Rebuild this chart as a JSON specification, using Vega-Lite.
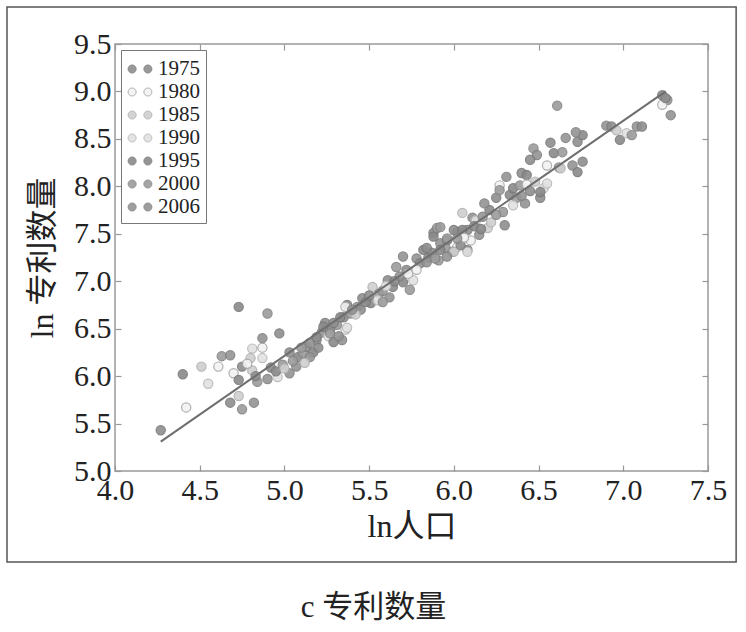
{
  "$schema": "https://vega.github.io/schema/vega-lite/v6.json",
  "width": 593,
  "height": 427,
  "autosize": {"type": "none"},
  "padding": {"left": 115, "top": 44, "right": 38, "bottom": 161},
  "background": "white",
  "title": {
    "text": "c 专利数量",
    "orient": "bottom",
    "anchor": "middle",
    "font": "Liberation Serif, Noto Sans CJK SC",
    "fontSize": 31,
    "fontWeight": "normal",
    "color": "#222222",
    "offset": 30,
    "dx": -38
  },
  "datasets": {
    "pts": [
      {"x":4.27,"y":5.43,"year":"1975"},{"x":4.40,"y":6.02,"year":"1995"},{"x":4.42,"y":5.67,"year":"1980"},
      {"x":4.51,"y":6.10,"year":"1985"},{"x":4.55,"y":5.92,"year":"1990"},{"x":4.61,"y":6.10,"year":"1980"},
      {"x":4.63,"y":6.21,"year":"2000"},{"x":4.68,"y":6.22,"year":"2006"},{"x":4.68,"y":5.72,"year":"1975"},
      {"x":4.73,"y":6.73,"year":"1995"},{"x":4.73,"y":5.79,"year":"1985"},{"x":4.75,"y":5.65,"year":"2000"},
      {"x":4.82,"y":5.72,"year":"2006"},{"x":4.81,"y":6.29,"year":"1990"},{"x":4.87,"y":6.30,"year":"1980"},
      {"x":4.80,"y":6.19,"year":"1985"},{"x":4.87,"y":6.19,"year":"1990"},{"x":4.70,"y":6.03,"year":"1980"},
      {"x":4.75,"y":6.10,"year":"1975"},{"x":4.73,"y":5.96,"year":"1995"},{"x":4.81,"y":6.06,"year":"1985"},
      {"x":4.84,"y":5.94,"year":"2000"},{"x":4.90,"y":5.97,"year":"2006"},{"x":4.83,"y":6.00,"year":"1975"},
      {"x":4.92,"y":6.09,"year":"1995"},{"x":4.96,"y":5.99,"year":"1990"},{"x":4.99,"y":6.12,"year":"2000"},
      {"x":5.03,"y":6.03,"year":"2006"},{"x":5.03,"y":6.25,"year":"1975"},{"x":5.08,"y":6.20,"year":"1995"},
      {"x":5.11,"y":6.24,"year":"2000"},{"x":5.07,"y":6.10,"year":"2006"},{"x":5.13,"y":6.31,"year":"1975"},
      {"x":5.17,"y":6.25,"year":"1995"},{"x":5.19,"y":6.38,"year":"2000"},{"x":5.22,"y":6.46,"year":"2006"},
      {"x":5.24,"y":6.56,"year":"1975"},{"x":5.27,"y":6.49,"year":"1995"},{"x":5.31,"y":6.54,"year":"2000"},
      {"x":5.34,"y":6.38,"year":"2006"},{"x":5.35,"y":6.62,"year":"1975"},{"x":5.37,"y":6.75,"year":"1995"},
      {"x":5.36,"y":6.49,"year":"1980"},{"x":4.90,"y":6.66,"year":"2000"},{"x":4.87,"y":6.40,"year":"2006"},
      {"x":4.97,"y":6.45,"year":"1975"},{"x":4.95,"y":6.05,"year":"1995"},{"x":5.00,"y":6.08,"year":"1985"},
      {"x":5.05,"y":6.16,"year":"2000"},{"x":5.15,"y":6.20,"year":"2006"},{"x":5.20,"y":6.30,"year":"1975"},
      {"x":5.26,"y":6.42,"year":"1990"},{"x":4.78,"y":6.13,"year":"1980"},{"x":5.12,"y":6.14,"year":"1985"},
      {"x":5.29,"y":6.36,"year":"1995"},{"x":5.10,"y":6.30,"year":"2000"},{"x":5.15,"y":6.35,"year":"2006"},
      {"x":5.19,"y":6.41,"year":"1975"},{"x":5.23,"y":6.52,"year":"1995"},{"x":5.27,"y":6.45,"year":"2000"},
      {"x":5.32,"y":6.42,"year":"2006"},{"x":5.29,"y":6.56,"year":"1975"},{"x":5.33,"y":6.62,"year":"1995"},
      {"x":5.37,"y":6.51,"year":"1990"},{"x":5.39,"y":6.66,"year":"2000"},{"x":5.36,"y":6.73,"year":"1980"},
      {"x":5.43,"y":6.73,"year":"2006"},{"x":5.46,"y":6.82,"year":"1975"},{"x":5.51,"y":6.77,"year":"1995"},
      {"x":5.52,"y":6.94,"year":"1985"},{"x":5.56,"y":6.87,"year":"2000"},{"x":5.62,"y":6.83,"year":"2006"},
      {"x":5.61,"y":7.01,"year":"1975"},{"x":5.64,"y":6.94,"year":"1995"},{"x":5.66,"y":7.15,"year":"2000"},
      {"x":5.70,"y":7.26,"year":"2006"},{"x":5.72,"y":7.12,"year":"1975"},{"x":5.76,"y":7.01,"year":"1990"},
      {"x":5.70,"y":6.99,"year":"1995"},{"x":5.74,"y":6.91,"year":"2000"},{"x":5.78,"y":7.24,"year":"2006"},
      {"x":5.80,"y":7.19,"year":"1975"},{"x":5.82,"y":7.33,"year":"1995"},{"x":5.91,"y":7.22,"year":"2000"},
      {"x":5.92,"y":7.40,"year":"2006"},{"x":5.96,"y":7.43,"year":"1975"},{"x":5.88,"y":7.51,"year":"1995"},
      {"x":5.90,"y":7.56,"year":"2000"},{"x":6.02,"y":7.52,"year":"2006"},{"x":6.08,"y":7.54,"year":"1975"},
      {"x":6.02,"y":7.36,"year":"1980"},{"x":6.08,"y":7.33,"year":"1995"},{"x":5.99,"y":7.31,"year":"2000"},
      {"x":6.05,"y":7.72,"year":"1985"},{"x":6.11,"y":7.67,"year":"2006"},{"x":5.45,"y":6.70,"year":"1975"},
      {"x":5.48,"y":6.78,"year":"1995"},{"x":5.55,"y":6.80,"year":"1990"},{"x":5.58,"y":6.90,"year":"2000"},
      {"x":5.68,"y":7.05,"year":"2006"},{"x":5.73,"y":7.08,"year":"1980"},{"x":5.85,"y":7.25,"year":"1975"},
      {"x":5.87,"y":7.30,"year":"1995"},{"x":5.95,"y":7.35,"year":"2000"},{"x":5.42,"y":6.65,"year":"1985"},
      {"x":5.40,"y":6.70,"year":"2006"},{"x":5.50,"y":6.85,"year":"1975"},{"x":5.60,"y":6.95,"year":"1990"},
      {"x":5.65,"y":7.00,"year":"1995"},{"x":5.58,"y":6.78,"year":"2000"},{"x":5.78,"y":7.12,"year":"1980"},
      {"x":5.84,"y":7.20,"year":"2006"},{"x":5.84,"y":7.35,"year":"1975"},{"x":5.92,"y":7.33,"year":"1995"},
      {"x":6.00,"y":7.31,"year":"1985"},{"x":6.08,"y":7.31,"year":"1990"},{"x":5.89,"y":7.24,"year":"2000"},
      {"x":5.96,"y":7.26,"year":"2006"},{"x":6.04,"y":7.38,"year":"1975"},{"x":6.10,"y":7.43,"year":"1980"},
      {"x":5.88,"y":7.47,"year":"1995"},{"x":5.96,"y":7.45,"year":"2000"},{"x":6.15,"y":7.49,"year":"2006"},
      {"x":6.20,"y":7.56,"year":"1985"},{"x":6.00,"y":7.54,"year":"1975"},{"x":6.05,"y":7.54,"year":"1995"},
      {"x":5.92,"y":7.57,"year":"2000"},{"x":6.13,"y":7.64,"year":"1990"},{"x":6.17,"y":7.68,"year":"2006"},
      {"x":6.30,"y":7.59,"year":"1975"},{"x":6.21,"y":7.75,"year":"1995"},{"x":6.29,"y":7.73,"year":"2000"},
      {"x":6.18,"y":7.82,"year":"2006"},{"x":6.25,"y":7.88,"year":"1975"},{"x":6.33,"y":7.91,"year":"1995"},
      {"x":6.37,"y":7.88,"year":"2000"},{"x":6.42,"y":7.82,"year":"2006"},{"x":6.51,"y":7.88,"year":"1975"},
      {"x":6.27,"y":8.01,"year":"1980"},{"x":6.35,"y":7.98,"year":"1995"},{"x":6.39,"y":8.01,"year":"2000"},
      {"x":6.48,"y":8.05,"year":"1985"},{"x":6.53,"y":7.98,"year":"1990"},{"x":6.31,"y":8.10,"year":"2006"},
      {"x":6.40,"y":8.14,"year":"1975"},{"x":6.43,"y":8.12,"year":"1995"},{"x":6.55,"y":8.22,"year":"1980"},
      {"x":6.62,"y":8.20,"year":"2000"},{"x":6.70,"y":8.22,"year":"2006"},{"x":6.76,"y":8.26,"year":"1975"},
      {"x":6.73,"y":8.15,"year":"1995"},{"x":6.47,"y":8.40,"year":"2000"},{"x":6.49,"y":8.33,"year":"2006"},
      {"x":6.57,"y":8.46,"year":"1975"},{"x":6.59,"y":8.35,"year":"1995"},{"x":6.64,"y":8.36,"year":"2000"},
      {"x":6.66,"y":8.51,"year":"2006"},{"x":6.73,"y":8.47,"year":"1975"},{"x":6.76,"y":8.54,"year":"1995"},
      {"x":6.61,"y":8.85,"year":"2000"},{"x":6.72,"y":8.57,"year":"2006"},{"x":6.45,"y":8.28,"year":"1975"},
      {"x":6.63,"y":8.19,"year":"1985"},{"x":6.51,"y":7.94,"year":"1995"},{"x":6.27,"y":7.96,"year":"2000"},
      {"x":6.55,"y":8.03,"year":"1990"},{"x":6.43,"y":8.02,"year":"1980"},{"x":6.90,"y":8.64,"year":"2006"},
      {"x":6.93,"y":8.63,"year":"1975"},{"x":6.96,"y":8.59,"year":"1985"},{"x":6.98,"y":8.49,"year":"1995"},
      {"x":7.02,"y":8.56,"year":"1990"},{"x":7.05,"y":8.54,"year":"2000"},{"x":7.08,"y":8.63,"year":"2006"},
      {"x":7.11,"y":8.63,"year":"1975"},{"x":7.23,"y":8.96,"year":"1995"},{"x":7.26,"y":8.91,"year":"2000"},
      {"x":7.23,"y":8.86,"year":"1980"},{"x":7.28,"y":8.75,"year":"2006"},{"x":7.25,"y":8.93,"year":"1975"},
      {"x":6.12,"y":7.58,"year":"1995"},{"x":6.22,"y":7.62,"year":"1985"},{"x":6.25,"y":7.70,"year":"2000"},
      {"x":6.35,"y":7.80,"year":"1990"},{"x":6.40,"y":7.90,"year":"2006"},{"x":6.45,"y":7.95,"year":"1975"},
      {"x":6.16,"y":7.55,"year":"1995"},{"x":6.06,"y":7.46,"year":"1980"},{"x":6.02,"y":7.45,"year":"2000"}
    ],
    "fit": [
      {"x": 4.27, "y": 5.31},
      {"x": 7.25, "y": 9.0}
    ]
  },
  "layer": [
    {
      "data": {"values": [{}]},
      "mark": {"type": "rect", "fill": "transparent", "stroke": "#555555", "strokeWidth": 1.5, "clip": false},
      "encoding": {
        "x": {"datum": 3.3625, "type": "quantitative", "axis": null},
        "x2": {"datum": 7.666},
        "y": {"datum": 9.889, "type": "quantitative", "axis": null},
        "y2": {"datum": 4.041}
      }
    },
    {
      "data": {"name": "pts"},
      "mark": {"type": "circle", "size": 85, "opacity": 0.9, "strokeWidth": 1.2},
      "encoding": {
        "x": {
          "field": "x", "type": "quantitative",
          "scale": {"domain": [4, 7.5], "nice": false, "zero": false},
          "axis": {
            "orient": "bottom", "values": [4, 4.5, 5, 5.5, 6, 6.5, 7, 7.5], "format": ".1f",
            "title": "ln人口", "titlePadding": 6
          }
        },
        "y": {
          "field": "y", "type": "quantitative",
          "scale": {"domain": [5, 9.5], "nice": false, "zero": false},
          "axis": {
            "orient": "left", "values": [5, 5.5, 6, 6.5, 7, 7.5, 8, 8.5, 9, 9.5], "format": ".1f",
            "title": "ln 专利数量", "titlePadding": 14
          }
        },
        "fill": {
          "field": "year", "type": "nominal",
          "scale": {
            "domain": ["1975", "1980", "1985", "1990", "1995", "2000", "2006"],
            "range": ["#8e8e8e", "#f2f2f2", "#cfcfcf", "#e2e2e2", "#8a8a8a", "#9c9c9c", "#949494"]
          },
          "legend": {"title": null}
        },
        "stroke": {
          "field": "year", "type": "nominal",
          "scale": {
            "domain": ["1975", "1980", "1985", "1990", "1995", "2000", "2006"],
            "range": ["#7a7a7a", "#a8a8a8", "#b0b0b0", "#b8b8b8", "#787878", "#848484", "#808080"]
          },
          "legend": {"title": null}
        }
      }
    },
    {
      "data": {"name": "fit"},
      "mark": {"type": "line", "color": "#6e6e6e", "strokeWidth": 2},
      "encoding": {
        "x": {"field": "x", "type": "quantitative",
          "axis": {"orient": "top", "values": [4, 4.5, 5, 5.5, 6, 6.5, 7, 7.5], "labels": false, "title": null}},
        "y": {"field": "y", "type": "quantitative",
          "axis": {"orient": "right", "values": [5, 5.5, 6, 6.5, 7, 7.5, 8, 8.5, 9, 9.5], "labels": false, "title": null}}
      }
    }
  ],
  "resolve": {"axis": {"x": "independent", "y": "independent"}},
  "config": {
    "view": {"stroke": "#999999", "strokeWidth": 1.5},
    "axis": {
      "grid": false,
      "domain": false,
      "ticks": true,
      "tickSize": -6,
      "tickColor": "#999999",
      "tickWidth": 1.2,
      "labelFont": "Liberation Serif",
      "labelFontSize": 30,
      "labelColor": "#222222",
      "labelPadding": 10,
      "labelFlush": false,
      "labelOverlap": false,
      "titleFont": "Liberation Serif, Noto Sans CJK SC",
      "titleFontSize": 32,
      "titleFontWeight": "normal",
      "titleColor": "#222222"
    },
    "legend": {
      "orient": "top-left",
      "offset": 6,
      "padding": 6,
      "strokeColor": "#777777",
      "fillColor": "white",
      "labelFont": "Liberation Serif",
      "labelFontSize": 21,
      "labelColor": "#222222",
      "labelOffset": 5,
      "rowPadding": 0,
      "symbolSize": 590,
      "symbolStrokeWidth": 1,
      "symbolType": "M -0.32 0 A 0.33 0.33 0 1 1 -0.98 0 A 0.33 0.33 0 1 1 -0.32 0 Z M 0.98 0 A 0.33 0.33 0 1 1 0.32 0 A 0.33 0.33 0 1 1 0.98 0 Z"
    }
  }
}
